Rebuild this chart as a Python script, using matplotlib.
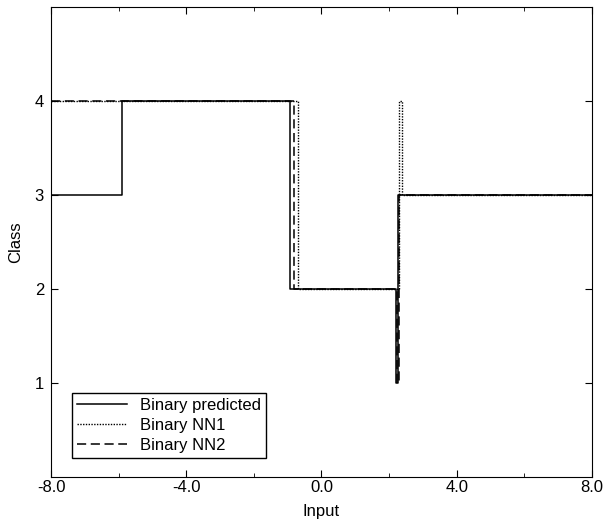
import matplotlib

matplotlib.use("Agg")
import matplotlib.pyplot as plt
from matplotlib.ticker import MultipleLocator

plt.rcParams["font.family"] = ["Liberation Sans", "DejaVu Sans"]

# breakpoints (x) and class held from that x onward
pred_x = [-8.0, -5.9, -0.93, 2.2, 2.27, 8.0]
pred_y = [3, 4, 2, 1, 3, 3]
nn1_x = [-8.0, -0.7, 2.3, 2.37, 8.0]
nn1_y = [4, 2, 4, 3, 3]
nn2_x = [-8.0, -0.82, 2.22, 2.28, 8.0]
nn2_y = [4, 2, 1, 3, 3]

fig = plt.figure(figsize=(6.05, 5.27), dpi=100)
ax = fig.add_axes([0.0843, 0.0949, 0.8942, 0.8918])

ax.plot(pred_x, pred_y, drawstyle="steps-post", color="black", linewidth=1.1, label="Binary predicted")
ax.plot(nn1_x, nn1_y, drawstyle="steps-post", color="black", linewidth=1.0, linestyle=(0, (1, 1)), label="Binary NN1")
ax.plot(nn2_x, nn2_y, drawstyle="steps-post", color="black", linewidth=1.1, linestyle=(0, (6, 3)), label="Binary NN2")

ax.set_xlim(-8, 8)
ax.set_ylim(0, 5)
ax.xaxis.set_major_locator(MultipleLocator(4))
ax.xaxis.set_minor_locator(MultipleLocator(2))
ax.set_yticks([1, 2, 3, 4])
ax.set_xticklabels([f"{v:.1f}" for v in ax.get_xticks()])
ax.tick_params(direction="in", top=True, right=True, labelsize=12, length=5, pad=5)
ax.tick_params(axis="x", pad=2)
ax.tick_params(which="minor", direction="in", top=True, right=True, length=3)
ax.set_xlabel("Input", fontsize=12, labelpad=7)
ax.set_ylabel("Class", fontsize=12, labelpad=8)

ax.legend(loc="lower left", bbox_to_anchor=(0.039, 0.04), fancybox=False, edgecolor="black",
          framealpha=1, fontsize=12, handlelength=3.0, borderpad=0.3, labelspacing=0.3,
          handletextpad=0.8, borderaxespad=0)

fig.savefig("out.png", dpi=100)
